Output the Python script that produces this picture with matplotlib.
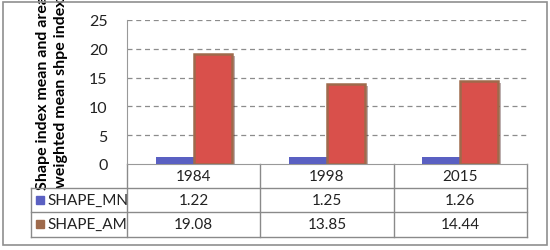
import matplotlib.pyplot as plt
import matplotlib.patheffects as pe
from matplotlib.patches import Rectangle
import numpy as np

years = ['1984', '1998', '2015']
shape_mn = [1.22, 1.25, 1.26]
shape_am = [19.08, 13.85, 14.44]
series_names = ['SHAPE_MN', 'SHAPE_AM']
yticks = [0, 5, 10, 15, 20, 25]

plt.rcParams['font.family'] = ['Lato', 'DejaVu Sans']

blue = '#5a60c2'
red = '#d9504b'
brown = '#9e6a4c'
grid_col = '#8c8c8c'

fig = plt.figure(figsize=(5.5, 2.51), dpi=100)
ax = fig.add_axes([127 / 550, 1 - 165 / 251, 400 / 550, 144 / 251])

x = np.arange(len(years))
w = 0.286
shadow = [pe.SimplePatchShadow(offset=(2, -1.5), alpha=0.35), pe.Normal()]
ax.bar(x - w / 2, shape_mn, w, color=blue, zorder=3)
ax.bar(x + w / 2, shape_am, w, color=red, edgecolor=brown, linewidth=1.8,
       zorder=3, path_effects=shadow)

ax.set_xlim(-0.5, 2.5)
ax.set_ylim(0, 25)
ax.set_yticks(yticks)
ax.set_xticks([])
ax.tick_params(axis='y', length=0, pad=14, labelsize=11.5, labelcolor='#222222')
for v in yticks[1:]:
    ax.axhline(v, color=grid_col, lw=0.9, ls=(0, (4, 3)), zorder=1)
for s in ['top', 'right']:
    ax.spines[s].set_visible(False)
ax.spines['left'].set_color('#999999')
ax.spines['bottom'].set_color('#999999')

# the label runs past the top of the chart, as in the source image
ax.set_ylabel('Shape index mean and area\nweighted mean shpe index',
              fontsize=11.5, fontweight='bold', linespacing=1.3)
ax.yaxis.set_label_coords(-0.148, 0.5)

# data table under the plot
rh = 24 / 144
lc = '#8a8a8a'
tr = ax.transAxes
leg_left = (31 - 127) / 400
bot = -3 * rh - 0.005
kw = dict(transform=tr, clip_on=False, color=lc, lw=1)
ax.plot([leg_left, 1], [-rh, -rh], **kw)
ax.plot([leg_left, 1], [-2 * rh, -2 * rh], **kw)
ax.plot([leg_left, 1], [bot, bot], **kw)
for xv in [0, 1 / 3, 2 / 3, 1]:
    ax.plot([xv, xv], [0, bot], **kw)
ax.plot([leg_left, leg_left], [-rh, bot], **kw)

rows = [shape_mn, shape_am]
colors = [blue, brown]
for i, yr in enumerate(years):
    ax.text((i + 0.5) / 3, -0.5 * rh, yr, transform=tr, ha='center',
            va='center', fontsize=11, color='#222222')
for r, (name, vals, c) in enumerate(zip(series_names, rows, colors)):
    yc = -(r + 1.5) * rh
    ax.add_patch(Rectangle((leg_left + 0.012, yc - 0.025), 0.02, 0.055,
                           transform=tr, clip_on=False, color=c))
    ax.text(leg_left + 0.04, yc, name, transform=tr, ha='left', va='center',
            fontsize=11, color='#222222')
    for i, v in enumerate(vals):
        ax.text((i + 0.5) / 3, yc, f'{v:.2f}', transform=tr, ha='center',
                va='center', fontsize=11, color='#222222')

# outer chart frame
fig.add_artist(Rectangle((3 / 550, 1 - 246 / 251), 544 / 550, 243 / 251,
                         transform=fig.transFigure, fill=False,
                         edgecolor='#8f8f8f', lw=1.2))

fig.savefig('out.png', dpi=100)
